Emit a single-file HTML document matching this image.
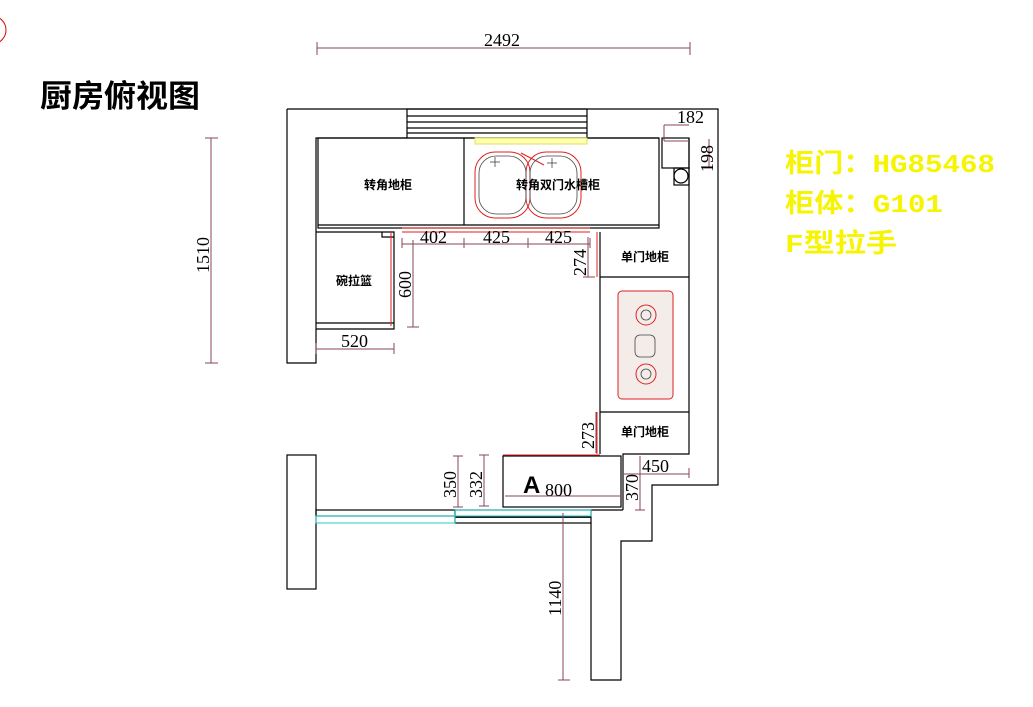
<!DOCTYPE html>
<html><head><meta charset="utf-8"><style>
html,body{margin:0;padding:0;background:#fff;width:1033px;height:707px;overflow:hidden}
svg{display:block}
.d{font-family:"Liberation Serif",serif;font-size:18px;fill:#000}
.c{font-family:"Liberation Sans","Noto Sans CJK SC",sans-serif;font-size:12px;font-weight:bold;fill:#000}
.y{font-family:"Liberation Mono","Noto Sans CJK SC",monospace;font-size:26px;font-weight:bold;fill:#f6f400}
</style></head><body>
<svg width="1033" height="707" viewBox="0 0 1033 707" xmlns="http://www.w3.org/2000/svg">
<circle cx="-8" cy="30" r="14" fill="none" stroke="#d00" stroke-width="1"/>
<text x="40" y="107" font-family="'Liberation Sans','Noto Sans CJK SC',sans-serif" font-size="31" font-weight="bold" fill="#000" textLength="160" lengthAdjust="spacingAndGlyphs">厨房俯视图</text>
<text class="y" x="785" y="172" textLength="210" lengthAdjust="spacingAndGlyphs">柜门：HG85468</text>
<text class="y" x="785" y="212" textLength="158" lengthAdjust="spacingAndGlyphs">柜体：G101</text>
<text class="y" x="785" y="252" textLength="112" lengthAdjust="spacingAndGlyphs">F型拉手</text>

<g fill="none" stroke="#000" stroke-width="1.2">
<path d="M287 109 H718 V485 H652 V541 H621 V680 H591 V523"/>
<path d="M287 109 V363 H316 V138 H407 M587 138 H659"/>
<path d="M689 138 V454 H623 V510"/>
<rect x="287" y="455" width="29" height="134"/>
<rect x="407" y="109" width="180" height="29"/>
<line x1="407" y1="116" x2="587" y2="116"/><line x1="407" y1="122" x2="587" y2="122"/><line x1="407" y1="128" x2="587" y2="128"/><line x1="407" y1="133" x2="587" y2="133"/>
<rect x="318" y="138" width="341" height="90"/>
<line x1="318" y1="225" x2="659" y2="225"/>
<line x1="464" y1="138" x2="464" y2="225"/>
<rect x="662" y="138" width="27" height="30"/>
<rect x="674" y="168" width="15" height="17"/>
<circle cx="681" cy="176" r="7"/>
<path d="M316 232 H394 V329 H316 M316 323 H394"/>
<path d="M382 232 V237 H394"/>
<path d="M600 232 V454 M600 277 H689 M600 412 H689"/>
<rect x="503" y="456" width="118" height="51"/>
<line x1="591" y1="510" x2="623" y2="510"/>
<rect x="316" y="510" width="139" height="6"/>
<rect x="455" y="510" width="136" height="13"/>
<line x1="455" y1="517" x2="591" y2="517" stroke-width="1.8"/>
</g>
<g fill="none" stroke="#2cc" stroke-width="1">
<rect x="316" y="516" width="139" height="7"/>
<rect x="455" y="510" width="136" height="6"/>
</g>
<g fill="none" stroke="#d22" stroke-width="1">
<rect x="475" y="138" width="112" height="6" stroke="#dd6" fill="#ffffb0"/>
<line x1="402" y1="228" x2="590" y2="228"/>
<line x1="402" y1="232" x2="590" y2="232"/>
<line x1="391" y1="232" x2="391" y2="326"/>
<line x1="597" y1="232" x2="597" y2="277"/>
<line x1="597" y1="412" x2="597" y2="454"/>
<line x1="503" y1="455" x2="600" y2="455"/>
<rect x="475" y="152" width="55" height="66" rx="20"/>
<rect x="526" y="152" width="55" height="66" rx="20"/>
<line x1="521" y1="153" x2="544" y2="165"/>
<rect x="618" y="291" width="55" height="108" rx="4" fill="#f3ece8"/>
<circle cx="646" cy="315" r="10"/><circle cx="646" cy="374" r="10"/>
</g>
<g fill="none" stroke="#444" stroke-width="0.8">
<rect x="479" y="156" width="47" height="58" rx="17"/>
<rect x="530" y="156" width="47" height="58" rx="17"/>
<circle cx="646" cy="315" r="5"/><circle cx="646" cy="374" r="5"/>
<rect x="635" y="335" width="20" height="22" rx="5"/>
<line x1="490" y1="162" x2="500" y2="162"/><line x1="495" y1="157" x2="495" y2="167"/>
<line x1="547" y1="163" x2="557" y2="163"/><line x1="552" y1="158" x2="552" y2="168"/>
</g>
<text class="c" x="364" y="189">转角地柜</text>
<text class="c" x="516" y="189">转角双门水槽柜</text>
<text class="c" x="336" y="285">碗拉篮</text>
<text class="c" x="621" y="261">单门地柜</text>
<text class="c" x="621" y="436">单门地柜</text>
<text x="523" y="493" font-family="'Liberation Sans',sans-serif" font-size="24" font-weight="bold">A</text>

<g stroke="#845" stroke-width="1" fill="none">
<line x1="317" y1="48" x2="690" y2="48"/><line x1="317" y1="42" x2="317" y2="55"/><line x1="690" y1="42" x2="690" y2="55"/>
<line x1="211" y1="138" x2="211" y2="363"/><line x1="205" y1="138" x2="218" y2="138"/><line x1="205" y1="363" x2="218" y2="363"/>
<line x1="316" y1="349" x2="394" y2="349"/><line x1="316" y1="343" x2="316" y2="354"/><line x1="394" y1="343" x2="394" y2="354"/>
<line x1="413" y1="240" x2="413" y2="327"/><line x1="407" y1="327" x2="419" y2="327"/>
<line x1="402" y1="244" x2="590" y2="244"/><line x1="402" y1="238" x2="402" y2="248"/><line x1="464" y1="238" x2="464" y2="248"/><line x1="528" y1="238" x2="528" y2="248"/><line x1="590" y1="238" x2="590" y2="248"/>
<line x1="588" y1="237" x2="588" y2="277"/><line x1="583" y1="277" x2="595" y2="277"/>
<line x1="664" y1="141" x2="689" y2="141"/><line x1="664" y1="141" x2="664" y2="125"/><line x1="664" y1="125" x2="689" y2="125"/>
<line x1="709" y1="139" x2="709" y2="168"/><line x1="703" y1="168" x2="713" y2="168"/>
<line x1="596" y1="412" x2="596" y2="453"/>
<line x1="458" y1="456" x2="458" y2="507"/><line x1="453" y1="456" x2="463" y2="456"/><line x1="453" y1="507" x2="463" y2="507"/>
<line x1="484" y1="455" x2="484" y2="506"/><line x1="479" y1="455" x2="489" y2="455"/><line x1="479" y1="506" x2="489" y2="506"/>
<line x1="505" y1="496" x2="620" y2="496"/>
<line x1="640" y1="456" x2="640" y2="510"/><line x1="635" y1="510" x2="645" y2="510"/>
<line x1="623" y1="474" x2="689" y2="474"/><line x1="689" y1="468" x2="689" y2="478"/>
<line x1="563" y1="513" x2="563" y2="680"/><line x1="558" y1="680" x2="570" y2="680"/>
</g>
<text class="d" x="484" y="46">2492</text>
<text class="d" transform="translate(209 273) rotate(-90)">1510</text>
<text class="d" x="341" y="347">520</text>
<text class="d" transform="translate(411 298) rotate(-90)">600</text>
<text class="d" x="420" y="243">402</text>
<text class="d" x="483" y="243">425</text>
<text class="d" x="545" y="243">425</text>
<text class="d" transform="translate(586 276) rotate(-90)">274</text>
<text class="d" x="677" y="123">182</text>
<text class="d" transform="translate(713 172) rotate(-90)">198</text>
<text class="d" transform="translate(594 449) rotate(-90)">273</text>
<text class="d" transform="translate(456 498) rotate(-90)">350</text>
<text class="d" transform="translate(482 498) rotate(-90)">332</text>
<text class="d" x="545" y="496">800</text>
<text class="d" transform="translate(638 501) rotate(-90)">370</text>
<text class="d" x="642" y="472">450</text>
<text class="d" transform="translate(561 616) rotate(-90)">1140</text>
</svg>
</body></html>
